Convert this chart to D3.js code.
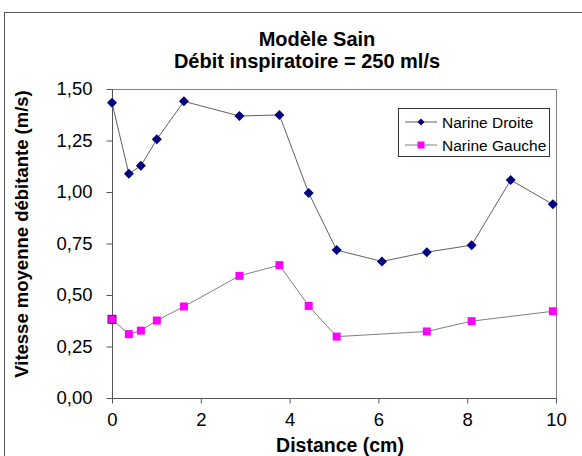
<!DOCTYPE html>
<html>
<head>
<meta charset="utf-8">
<script src="https://cdn.jsdelivr.net/npm/d3@7"></script>
<style>
  body { margin: 0; background: #fff; }
  svg { display: block; font-family: "Liberation Sans", Arial, sans-serif; }
</style>
</head>
<body>
<div id="chart"></div>
<script>
// values
const droiteX = [0, 0.38, 0.65, 1.01, 1.62, 2.87, 3.77, 4.43, 5.06, 6.08, 7.09, 8.1, 8.98, 9.93];
const droiteY = [1.433, 1.088, 1.127, 1.256, 1.440, 1.369, 1.374, 0.995, 0.718, 0.663, 0.708, 0.742, 1.058, 0.940];
const gaucheX = [0, 0.38, 0.65, 1.01, 1.62, 2.87, 3.77, 4.43, 5.06, 7.09, 8.1, 9.93];
const gaucheY = [0.382, 0.310, 0.327, 0.376, 0.444, 0.593, 0.645, 0.447, 0.298, 0.323, 0.373, 0.421];
const xTicks = [0, 2, 4, 6, 8, 10];
const yTicks = [0, 0.25, 0.5, 0.75, 1, 1.25, 1.5];
const seriesNames = ["Narine Droite", "Narine Gauche"];
const titleLines = ["Modèle Sain", "Débit inspiratoire = 250 ml/s"];

const width = 582, height = 456;
const plot = { left: 112, right: 556, top: 89, bottom: 398 };

const svg = d3.select("#chart").append("svg")
  .attr("width", width)
  .attr("height", height);

// outer chart frame (runs off the right and bottom edges)
svg.append("rect")
  .attr("x", 4.5).attr("y", 12.5)
  .attr("width", 600).attr("height", 500)
  .attr("fill", "#fff")
  .attr("stroke", "#555");

const x = d3.scaleLinear().domain([0, 10]).range([plot.left, plot.right]);
const y = d3.scaleLinear().domain([0, 1.5]).range([plot.bottom, plot.top]);

const fmt = d3.format(".2f");

// plot area border (top + right)
svg.append("path")
  .attr("d", `M${plot.left},${plot.top + 0.5}H${plot.right + 0.5}V${plot.bottom}`)
  .attr("fill", "none")
  .attr("stroke", "#808080");

const yAxis = svg.append("g")
  .attr("transform", `translate(${plot.left + 0.5},0)`)
  .call(d3.axisLeft(y).tickValues(yTicks).tickSize(6).tickPadding(14)
    .tickFormat(d => fmt(d).replace(".", ",")));

const xAxis = svg.append("g")
  .attr("transform", `translate(0,${plot.bottom + 0.5})`)
  .call(d3.axisBottom(x).tickValues(xTicks).tickSize(5).tickPadding(9));

[xAxis, yAxis].forEach(ax => {
  ax.select(".domain").attr("stroke", "#555");
  ax.selectAll(".tick line").attr("stroke", "#555");
  ax.selectAll(".tick text")
    .attr("font-size", 18.5)
    .attr("font-family", "Liberation Sans, Arial, sans-serif")
    .attr("fill", "#000");
});
xAxis.select(".domain").attr("d", `M${plot.left},0H${plot.right + 0.5}`);
yAxis.select(".domain").attr("d", `M0,${plot.top}V${plot.bottom + 0.5}`);

const line = d3.line().x(d => x(d[0])).y(d => y(d[1]));

const droite = d3.zip(droiteX, droiteY);
const gauche = d3.zip(gaucheX, gaucheY);

svg.append("path")
  .datum(droite)
  .attr("d", line)
  .attr("fill", "none")
  .attr("stroke", "#606060")
  .attr("stroke-width", 1);

svg.append("path")
  .datum(gauche)
  .attr("d", line)
  .attr("fill", "none")
  .attr("stroke", "#808080")
  .attr("stroke-width", 1);

const diamond = "M0,-5L5,0L0,5L-5,0Z";

svg.append("g").selectAll("path")
  .data(droite)
  .join("path")
  .attr("d", diamond)
  .attr("transform", d => `translate(${x(d[0])},${y(d[1])})`)
  .attr("fill", "#000080");

svg.append("g").selectAll("rect")
  .data(gauche)
  .join("rect")
  .attr("x", d => x(d[0]) - 4)
  .attr("y", d => y(d[1]) - 4)
  .attr("width", 8)
  .attr("height", 8)
  .attr("fill", "#ff00ff")
  .attr("stroke", (d, i) => i === 0 ? "#800080" : "none");

// titles
svg.append("text")
  .attr("x", 317).attr("y", 46)
  .attr("text-anchor", "middle")
  .attr("font-size", 20).attr("font-weight", "bold")
  .text(titleLines[0]);

svg.append("text")
  .attr("x", 307).attr("y", 68)
  .attr("text-anchor", "middle")
  .attr("font-size", 20).attr("font-weight", "bold")
  .text(titleLines[1]);

svg.append("text")
  .attr("x", 340).attr("y", 452)
  .attr("text-anchor", "middle")
  .attr("font-size", 19.5).attr("font-weight", "bold")
  .text("Distance (cm)");

svg.append("text")
  .attr("transform", "translate(28,234) rotate(-90)")
  .attr("text-anchor", "middle")
  .attr("font-size", 18.5).attr("font-weight", "bold")
  .text("Vitesse moyenne débitante (m/s)");

// legend
const legend = svg.append("g");
legend.append("rect")
  .attr("x", 398.5).attr("y", 108.5)
  .attr("width", 151).attr("height", 48)
  .attr("fill", "#fff")
  .attr("stroke", "#333");

const rows = legend.selectAll("g.row")
  .data(seriesNames)
  .join("g")
  .attr("class", "row")
  .attr("transform", (d, i) => `translate(0,${122 + i * 23})`);

rows.append("line")
  .attr("x1", 405).attr("x2", 437)
  .attr("stroke", (d, i) => i === 0 ? "#606060" : "#808080");

rows.filter((d, i) => i === 0).append("path")
  .attr("d", "M0,-3.5L3.5,0L0,3.5L-3.5,0Z")
  .attr("transform", "translate(421,0)")
  .attr("fill", "#000080");

rows.filter((d, i) => i === 1).append("rect")
  .attr("x", 417.5).attr("y", -3.5)
  .attr("width", 7).attr("height", 7)
  .attr("fill", "#ff00ff");

rows.append("text")
  .attr("x", 442).attr("dy", "0.36em")
  .attr("font-size", 15.5)
  .text(d => d);
</script>
</body>
</html>
